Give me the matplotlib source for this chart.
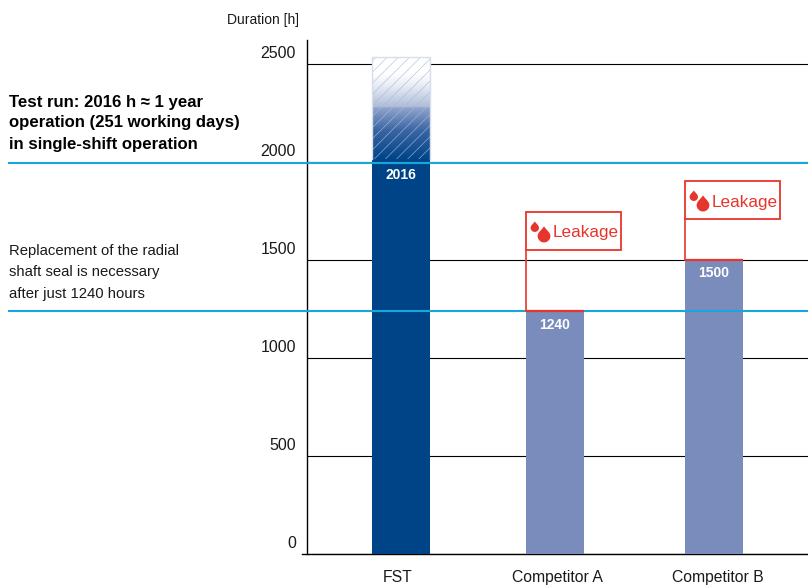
"""FST vs competitors - seal test duration bars"""
import matplotlib
matplotlib.use("Agg")
import matplotlib.pyplot as plt
import numpy as np
from matplotlib.colors import LinearSegmentedColormap
from matplotlib.patches import PathPatch, Rectangle
from matplotlib.path import Path
from matplotlib.transforms import ScaledTranslation

plt.rcParams["font.family"] = ["Liberation Sans", "DejaVu Sans"]
plt.rcParams["hatch.linewidth"] = 0.4

categories = ["FST", "Competitor A", "Competitor B"]
durations = [2016, 1240, 1500]
fade_top = 2535
y_ticks = [0, 500, 1000, 1500, 2000, 2500]
ref_lines = [1995, 1240]

BLUE = "#004488"
LIGHT = "#7a8cbc"
CYAN = "#17a7dc"
RED = "#e8352b"
W, H = 808, 585

bar_x = [400.5, 555, 714]
bar_w = 58
label_x = [398, 557, 718]

fig = plt.figure(figsize=(W / 100, H / 100), dpi=100)
ax = fig.add_axes([306.5 / W, 1 - 554 / H, (W - 306.5) / W, (554 - 40) / H])
ax.set_xlim(306.5, W)
ax.set_ylim(0, 514 / 0.196)
ax.patch.set_alpha(0)

for s in ["top", "right"]:
    ax.spines[s].set_visible(False)
ax.spines["left"].set_linewidth(1)
ax.spines["bottom"].set_visible(False)

ax.hlines(y_ticks, 306.5, W, color="black", lw=0.8, zorder=1)
ax.plot([302, W], [0, 0], color="black", lw=1, clip_on=False, zorder=1)

colors = [BLUE, LIGHT, LIGHT]
ax.bar(bar_x, durations, width=bar_w, color=colors, zorder=2)

# fading top of the FST bar
fade = LinearSegmentedColormap.from_list("fade", [
    (0.0, BLUE), (0.28, "#3a65a3"), (0.5, "#8fa3cc"), (0.515, "#b0bdd8"),
    (0.72, "#e8ecf5"), (0.84, "#ffffff"), (1.0, "#ffffff")])
left, right = bar_x[0] - bar_w / 2, bar_x[0] + bar_w / 2
ax.imshow(np.linspace(1, 0, 256).reshape(-1, 1), cmap=fade, aspect="auto", zorder=2,
          extent=[left, right, durations[0], fade_top], vmin=0, vmax=1)
ax.set_xlim(306.5, W)
ax.set_ylim(0, 514 / 0.196)
ax.add_patch(Rectangle((left, durations[0]), bar_w, fade_top - durations[0], fill=False,
                       edgecolor="#a9bcd6", hatch="///", lw=0, zorder=3))
ax.plot([left, left, right, right], [durations[0], fade_top, fade_top, durations[0]],
        color="#d5deea", lw=1, zorder=3)

ax.set_yticks(y_ticks)
ax.set_yticklabels([str(v) for v in y_ticks], fontsize=11.5, color="#1a1a1a", va="center")
ax.set_xticks(label_x)
ax.set_xticklabels(categories, fontsize=11.3, color="#1a1a1a")
ax.tick_params(axis="y", length=0, pad=7.5)
ax.tick_params(axis="x", length=0, pad=11.3)
up = ScaledTranslation(0, 10 / 100, fig.dpi_scale_trans)
for lbl in ax.get_yticklabels():
    lbl.set_transform(lbl.get_transform() + up)

for x, v, off in zip(bar_x, durations, [-16, -14, -13]):
    ax.annotate(str(v), (x, v), xytext=(0, off), textcoords="offset pixels",
                ha="center", va="center", color="white", fontsize=10, fontweight="bold", zorder=6)

# overlay in pixel coordinates for the callouts and left-hand notes
ov = fig.add_axes([0, 0, 1, 1])
ov.set_xlim(0, W)
ov.set_ylim(H, 0)
ov.axis("off")


def to_px(x, v):
    return ov.transData.inverted().transform(ax.transData.transform((x, v)))


def drop(cx, top, bottom, color=RED):
    r = (bottom - top) * 0.4
    cy = bottom - r
    k = r * 0.55
    verts = [(cx, top), (cx + r * 0.35, cy - r * 1.0), (cx + r, cy - k), (cx + r, cy),
             (cx + r, cy + k), (cx + k, cy + r), (cx, cy + r),
             (cx - k, cy + r), (cx - r, cy + k), (cx - r, cy),
             (cx - r, cy - k), (cx - r * 0.35, cy - r * 1.0), (cx, top), (cx, top)]
    codes = [Path.MOVETO] + [Path.CURVE4] * 12 + [Path.CLOSEPOLY]
    ov.add_patch(PathPatch(Path(verts, codes), fc=color, ec="none", zorder=7))


for x, v, gap in zip(bar_x[1:], durations[1:], [61, 41]):
    bx, by = to_px(x - bar_w / 2, v)
    ov.plot([bx, bx + bar_w], [by, by], color=RED, lw=1.6, zorder=6, solid_capstyle="butt")
    ov.plot([bx, bx], [by, by - gap], color=RED, lw=1.2, zorder=6)
    ov.add_patch(Rectangle((bx, by - gap - 38), 95, 38, fill=False, ec=RED, lw=1.3, zorder=6))
    drop(bx + 8.8, by - gap - 28.5, by - gap - 18)
    drop(bx + 18, by - gap - 23.5, by - gap - 7.5)
    ov.text(bx + 27, by - gap - 17, "Leakage", color=RED, fontsize=12.3, va="center", ha="left", zorder=7)

for v in ref_lines:
    _, py = to_px(bar_x[0], v)
    ov.plot([9, W], [py, py], color=CYAN, lw=1.5, zorder=5)

ov.text(227, 20, "Duration [h]", fontsize=10, color="#1a1a1a", va="center")
for y, t in zip([102, 122.5, 144], ["Test run: 2016 h ≈ 1 year", "operation (251 working days)",
                                    "in single-shift operation"]):
    ov.text(9, y, t, fontsize=12.1, fontweight="bold", color="black", va="center")
for y, t in zip([251, 272, 294], ["Replacement of the radial", "shaft seal is necessary",
                                  "after just 1240 hours"]):
    ov.text(9, y, t, fontsize=10.7, color="#1a1a1a", va="center")

plt.savefig("out.png", dpi=100)
plt.close()
